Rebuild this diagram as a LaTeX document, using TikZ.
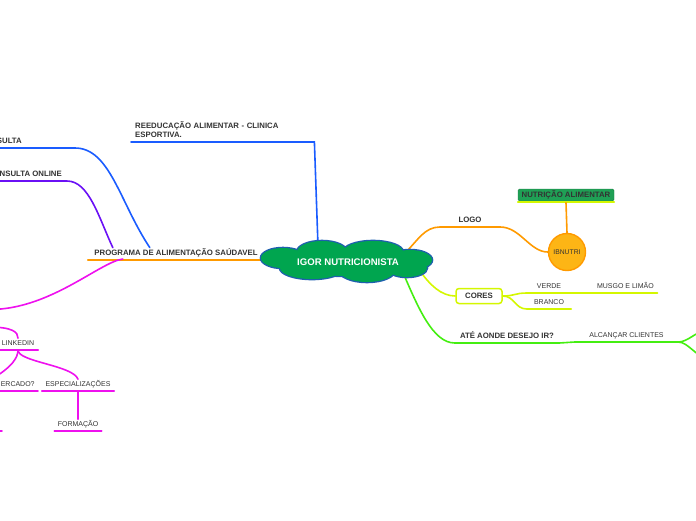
\documentclass[tikz,border=0pt]{standalone}
\usepackage{fontspec}
\setmainfont{Liberation Sans}
\usetikzlibrary{positioning,calc}
\definecolor{txtgray}{HTML}{333333}
\definecolor{cloudgreen}{HTML}{00A54F}
\definecolor{cloudblue}{HTML}{1F5FAF}
\definecolor{bluebr}{HTML}{1A5CFF}
\definecolor{purplebr}{HTML}{6A10F5}
\definecolor{magbr}{HTML}{EE11EE}
\definecolor{orangebr}{HTML}{FF9A00}
\definecolor{limebr}{HTML}{D4F700}
\definecolor{greenbr}{HTML}{44EE11}
\definecolor{ibgold}{HTML}{FDB515}
\definecolor{nutrigreen}{HTML}{1FA055}

\begin{document}
\begin{tikzpicture}[x=1pt,y=-1pt,
  hub/.style={minimum width=170pt, minimum height=40pt, inner sep=0pt},
  hubtext/.style={text=white, font=\fontsize{9.6}{11}\selectfont\bfseries, inner sep=0pt},
  lbl/.style={font=\fontsize{7.8}{9.5}\selectfont\bfseries, text=txtgray, inner xsep=0pt, inner ysep=2.4pt},
  topic/.style={lbl, text height=5.6pt, text depth=1.6pt},
  leaf/.style={font=\fontsize{7}{8.5}\selectfont, text=txtgray, inner xsep=0pt, inner ysep=2.4pt,
    text height=5.1pt, text depth=1.5pt},
  branch/.style={line width=1.6pt, line cap=round},
  blueln/.style={branch, draw=bluebr},
  purpln/.style={branch, draw=purplebr},
  magln/.style={branch, draw=magbr},
  orngln/.style={branch, draw=orangebr},
  limeln/.style={branch, draw=limebr},
  grnln/.style={branch, draw=greenbr}
]
  \useasboundingbox (0,0) rectangle (696,520);
  \clip (0,0) rectangle (696,520);

  % central idea (cloud drawn further down)
  \node[hub] (igor) at (348,262) {};

  % reeducacao
  \node[lbl, anchor=south west, align=left, text width=175pt, inner xsep=4pt, inner ysep=4pt]
    (reed) at (131,142) {REEDUCAÇÃO ALIMENTAR - CLINICA\\ESPORTIVA.};
  \draw[blueln] ($(igor.center)+(-30,-16)$) -- (reed.south east) -- (reed.south west);

  % programa and its children
  \node[topic, anchor=south, minimum width=176pt] (prog) at (176,260) {PROGRAMA DE ALIMENTAÇÃO SAÚDAVEL};
  \draw[orngln] (prog.south west) -- (prog.south east);

  \node[topic, anchor=south east] (cons) at (22,148) {CONSULTA};
  \draw[blueln] (cons.south west) -- (cons.south east) -- ++(53,0)
    .. controls +(35,0) and +(-30,-45) .. ($(prog.north west)+(62,0)$);

  \node[topic, anchor=south east] (online) at (62,181) {CONSULTA ONLINE};
  \draw[purpln] (online.south west) -- (online.south east) -- ++(5,0)
    .. controls +(22,0) and +(-14,-30) .. ($(prog.north west)+(25,0)$);

  \coordinate (mkt) at (-10,309.5);
  \draw[magln] ($(prog.south west)+(35,-1)$) .. controls +(-23,3) and +(60,0) .. (mkt);

  % linkedin group
  \coordinate (mktb) at (-12,327);
  \node[leaf, anchor=south, minimum width=40pt] (linked) at (18,350) {LINKEDIN};
  \draw[magln] (mktb) .. controls +(25,0) and +(0,-6) .. (linked.north);
  \draw[magln] (linked.south west) -- (linked.south east);

  \node[leaf, anchor=south east, minimum width=46pt] (merc) at (38,391) {MERCADO?};
  \draw[magln] (merc.south west) -- (merc.south east);
  \draw[magln] (linked.south) .. controls +(0,8) and +(20,-12) .. (merc.north west);

  \node[leaf, anchor=south, minimum width=72pt] (espec) at (78,391) {ESPECIALIZAÇÕES};
  \draw[magln] (espec.south west) -- (espec.south east);
  \draw[magln] (linked.south) .. controls +(0,12) and +(-5,-14) .. (espec.north);

  \node[leaf, anchor=south, minimum width=47pt] (form) at (78,431) {FORMAÇÃO};
  \draw[magln] (espec.south) -- (form.north);
  \draw[magln] (form.south west) -- (form.south east);

  \coordinate (stubA) at (-20,431);
  \coordinate (stubB) at (2,431);
  \draw[magln] (stubA) -- (stubB);

  % logo
  \node[topic, anchor=south, minimum width=60pt] (logo) at (470,227) {LOGO};
  \node[circle, fill=ibgold, draw=orangebr, line width=1.4pt, minimum size=37pt, inner sep=0pt,
    font=\fontsize{6.8}{8}\selectfont, text=txtgray] (ibn) at (567,252) {IBNUTRI};
  \draw[orngln] ($(igor.center)+(58,-10)$) .. controls +(12,-12) and +(-15,0) .. (logo.south west)
    -- (logo.south east) .. controls +(20,0) and +(-18,0) .. (ibn.west);

  \node[topic, fill=nutrigreen, draw=nutrigreen!80!black, rounded corners=1.5pt,
    minimum width=96pt, minimum height=12pt, inner ysep=1pt] (nutri) at (566,195) {NUTRIÇÃO ALIMENTAR};
  \draw[limeln] ([yshift=-1pt]nutri.south west) -- ([yshift=-1pt]nutri.south east);
  \draw[orngln] ([yshift=-1.5pt]nutri.south) -- (ibn.north);

  % cores
  \node[topic, draw=limebr, line width=1.5pt, fill=white, rounded corners=3pt,
    minimum width=46pt, minimum height=15pt, inner ysep=1pt] (cores) at (479,296) {CORES};
  \draw[limeln] ($(igor.center)+(72,9)$) .. controls +(10,14) and +(-14,0) .. (cores.west);

  \node[leaf, anchor=south, minimum width=44pt] (verde) at (549,293) {VERDE};
  \node[leaf, anchor=west, minimum width=64pt, right=22pt of verde] (musgo) {MUSGO E LIMÃO};
  \node[leaf, anchor=south, minimum width=44pt] (branco) at (549,309) {BRANCO};
  \draw[limeln] (cores.east) .. controls +(12,0) and +(-12,0) .. (verde.south west) -- (musgo.south east);
  \draw[limeln] (cores.east) .. controls +(12,0) and +(-12,0) .. (branco.south west) -- (branco.south east);

  % ate aonde
  \node[topic, anchor=south, minimum width=104pt] (ate) at (507,343) {ATÉ AONDE DESEJO IR?};
  \node[leaf, anchor=south, minimum width=103pt] (alc) at (626.5,342) {ALCANÇAR CLIENTES};
  \draw[grnln] ($(igor.center)+(56,13)$) .. controls +(14,32) and +(-22,0) .. (ate.south west) -- (ate.south east)
    .. controls +(8,0) and +(-8,0) .. (alc.south west) -- (alc.south east);

  \coordinate (farup) at (706,331);
  \coordinate (fardn) at (706,357);
  \draw[grnln] (alc.south east) .. controls +(10,0) and +(-10,0) .. (farup);
  \draw[grnln] (alc.south east) .. controls +(10,0) and +(-10,0) .. (fardn);

  % cloud: outlines first, then fills on top
  \foreach \cx/\cy/\rx/\ry in {283/258/22/10, 322/252/25/11, 373/252/30/11, 410/260/22/10,
      312/268/32/11, 367/270/28/12, 407/268/20/9, 348/262/60/14}
    \draw[cloudblue, line width=2.6pt] (\cx,\cy) ellipse [x radius=\rx pt, y radius=\ry pt];
  \foreach \cx/\cy/\rx/\ry in {283/258/22/10, 322/252/25/11, 373/252/30/11, 410/260/22/10,
      312/268/32/11, 367/270/28/12, 407/268/20/9, 348/262/60/14}
    \fill[cloudgreen] (\cx,\cy) ellipse [x radius=\rx pt, y radius=\ry pt];
  \node[hubtext] (igorlbl) at (igor) {IGOR NUTRICIONISTA};

\end{tikzpicture}
\end{document}
